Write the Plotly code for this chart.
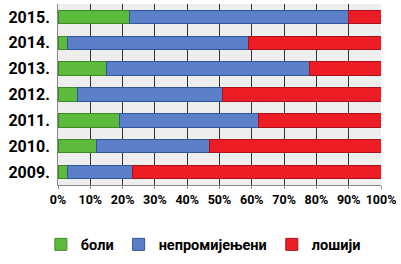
import plotly.graph_objects as go

years = ["2009.", "2010.", "2011.", "2012.", "2013.", "2014.", "2015."]
bolji = [3, 12, 19, 6, 15, 3, 22]
nepromijenjeni = [20, 35, 43, 45, 63, 56, 68]
losiji = [77, 53, 38, 49, 22, 41, 10]
ticks = [0, 10, 20, 30, 40, 50, 60, 70, 80, 90, 100]
tick_labels = [f"{t}%" for t in ticks]

FONT = "Roboto, Liberation Sans, sans-serif"

series = [
    ("боли", bolji, "#5cbb3c", "#3d8a24"),
    ("непромијењени", nepromijenjeni, "#5b80c8", "#2f55a0"),
    ("лошији", losiji, "#ee1d25", "#a8121a"),
]

fig = go.Figure()
for name, vals, col, edge in series:
    fig.add_trace(go.Bar(
        y=years, x=vals, name=name, orientation="h",
        marker=dict(color=col, line=dict(color=edge, width=1)),
    ))

fig.update_layout(
    barmode="stack",
    bargap=0.48,
    width=401, height=264,
    margin=dict(l=58, r=20, t=4, b=68),
    paper_bgcolor="white",
    plot_bgcolor="#eeeeee",
    font=dict(family=FONT, color="black"),
    showlegend=True,
    legend=dict(orientation="h", x=0.45, xanchor="center", y=-0.24, yanchor="top",
                font=dict(size=14.5, family=FONT, weight="bold"),
                itemwidth=30, tracegroupgap=0, traceorder="normal"),
    xaxis=dict(range=[0, 100], tickvals=ticks, ticktext=tick_labels,
               tickangle=0, automargin=False,
               showgrid=True, gridcolor="#333333", gridwidth=1,
               showline=True, linecolor="#888888", ticks="outside",
               ticklen=3, tickcolor="#888888",
               tickfont=dict(size=12.5, family=FONT, weight="bold"),
               zeroline=False, fixedrange=True),
    yaxis=dict(categoryorder="array", categoryarray=years, automargin=False,
               tickfont=dict(size=16, family=FONT, weight="bold"), showgrid=False,
               showline=True, linecolor="#888888", ticks="",
               ticklabelstandoff=4, fixedrange=True),
)
fig.write_html("out.html", config={"displayModeBar": False},
               post_script="document.body.style.margin='0';")
